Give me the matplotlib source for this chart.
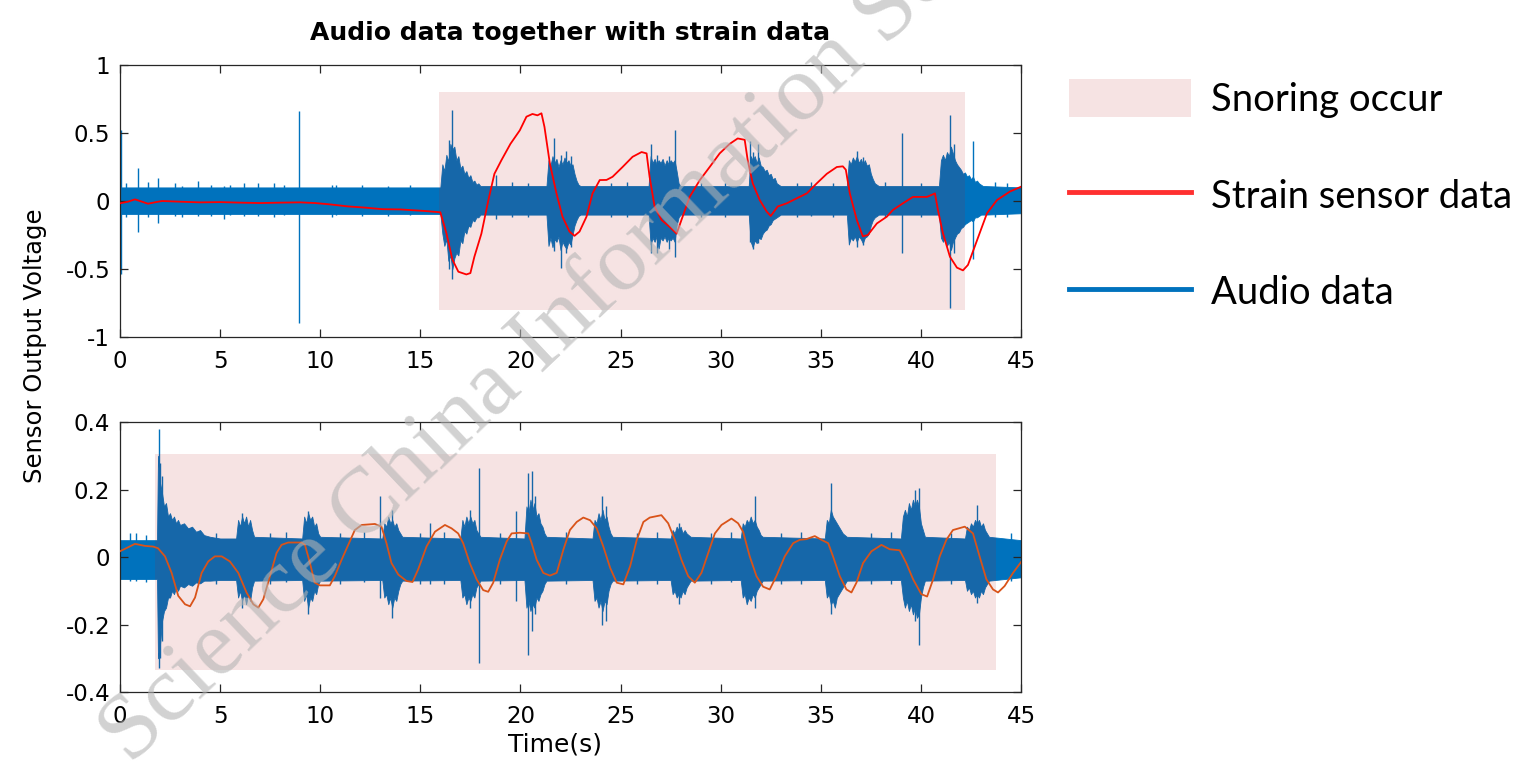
import matplotlib.pyplot as plt
from matplotlib.lines import Line2D
from matplotlib.patches import Patch

plt.rcParams['font.family'] = 'DejaVu Sans'

# ---- recording 1 (top) ----
# strain sensor trace
s1_t = [0, 0.4, 0.75, 1.1, 1.4, 1.8, 2.1, 3.0, 4.0, 5.0, 6.0, 7.0, 8.0, 9.0, 9.75,
        10.5, 11.4, 12.2, 13.1, 14.0, 15.2, 16.0, 16.3, 16.6, 16.9, 17.3, 17.5, 17.7,
        18.05, 18.4, 18.7, 19.05, 19.5, 19.97, 20.3, 20.6, 20.85, 21.05, 21.2, 21.47,
        21.8, 22.1, 22.45, 22.7, 22.95, 23.3, 23.6, 23.96, 24.3, 24.6, 25.1, 25.6, 26.05,
        26.3, 26.45, 26.7, 27.05, 27.45, 27.8, 28.1, 28.45, 28.96, 29.45, 29.95, 30.45,
        30.85, 31.2, 31.35, 31.6, 31.95, 32.3, 32.5, 32.85, 33.3, 33.8, 34.3, 34.8, 35.3,
        35.8, 36.1, 36.25, 36.45, 36.8, 37.1, 37.35, 37.8, 38.3, 38.6, 39.1, 39.6, 40.3,
        40.7, 40.85, 41.1, 41.45, 41.8, 42.1, 42.35, 42.8, 43.3, 43.8, 44.45, 45.0]
s1_v = [-0.017, -0.005, 0.012, -0.005, -0.02, -0.008, 0.0, -0.005, -0.01, -0.008, -0.012,
        -0.015, -0.012, -0.01, -0.015, -0.025, -0.04, -0.048, -0.06, -0.062, -0.073, -0.083,
        -0.235, -0.43, -0.52, -0.54, -0.53, -0.41, -0.24, 0.007, 0.2, 0.30, 0.42, 0.52, 0.62,
        0.64, 0.63, 0.645, 0.545, 0.275, 0.056, -0.115, -0.225, -0.256, -0.225, -0.115, 0.056,
        0.154, 0.155, 0.178, 0.25, 0.325, 0.36, 0.35, 0.178, -0.04, -0.14, -0.19, -0.24,
        -0.115, 0.03, 0.154, 0.25, 0.35, 0.42, 0.46, 0.45, 0.30, 0.13, 0.007, -0.078, -0.11,
        -0.04, -0.017, 0.02, 0.056, 0.13, 0.20, 0.25, 0.255, 0.23, 0.056, -0.14, -0.26, -0.25,
        -0.165, -0.115, -0.066, -0.017, 0.03, 0.03, 0.056, -0.066, -0.237, -0.41, -0.49,
        -0.51, -0.47, -0.29, -0.09, 0.007, 0.07, 0.105]

# audio envelope: upper / lower bound of the dense waveform
a1_t = [0, 16.0,
        16.1, 16.2, 16.3, 16.4, 16.5, 16.6, 16.7, 16.8, 16.9, 17.0, 17.1, 17.2, 17.3, 17.4,
        17.5, 17.6, 17.7, 17.8, 17.9, 18.0, 18.1,
        21.3, 21.4, 21.5, 21.6, 21.7, 21.8, 21.9, 22.0, 22.1, 22.2, 22.3, 22.4, 22.5, 22.6,
        22.7, 22.8, 22.9, 23.0,
        26.4, 26.5, 26.6, 26.7, 26.8, 26.9, 27.0, 27.1, 27.2, 27.3, 27.4, 27.5, 27.6, 27.7,
        27.8, 27.9, 28.0,
        31.4, 31.5, 31.6, 31.7, 31.8, 31.9, 32.0, 32.1, 32.2, 32.3, 32.4, 32.5, 32.6, 32.7,
        32.8, 32.9, 33.0,
        36.3, 36.4, 36.5, 36.6, 36.7, 36.8, 36.9, 37.0, 37.1, 37.2, 37.3, 37.4, 37.5, 37.6,
        37.7, 37.8, 37.9,
        40.9, 41.0, 41.1, 41.2, 41.3, 41.4, 41.5, 41.6, 41.7, 41.8, 41.9, 42.0, 42.1, 42.2,
        42.3, 42.4, 42.5, 42.6, 42.7, 42.8, 42.9, 43.0, 43.1, 43.2, 45.0]
a1_hi = [0.10, 0.10,
         0.27, 0.22, 0.34, 0.29, 0.42, 0.38, 0.40, 0.30, 0.33, 0.24, 0.26, 0.20, 0.22, 0.17,
         0.19, 0.14, 0.15, 0.12, 0.13, 0.11, 0.11,
         0.11, 0.30, 0.26, 0.33, 0.28, 0.31, 0.25, 0.30, 0.27, 0.32, 0.28, 0.30, 0.26, 0.27,
         0.20, 0.15, 0.12, 0.11,
         0.11, 0.33, 0.28, 0.31, 0.27, 0.30, 0.28, 0.31, 0.26, 0.30, 0.27, 0.30, 0.28, 0.30,
         0.22, 0.13, 0.11,
         0.11, 0.33, 0.30, 0.33, 0.28, 0.32, 0.26, 0.25, 0.22, 0.23, 0.19, 0.20, 0.16, 0.17,
         0.13, 0.12, 0.11,
         0.11, 0.30, 0.27, 0.32, 0.29, 0.33, 0.28, 0.31, 0.27, 0.30, 0.26, 0.27, 0.20, 0.16,
         0.13, 0.12, 0.11,
         0.11, 0.30, 0.34, 0.30, 0.36, 0.33, 0.40, 0.35, 0.30, 0.27, 0.25, 0.23, 0.20, 0.21,
         0.18, 0.19, 0.16, 0.18, 0.14, 0.15, 0.13, 0.12, 0.11, 0.11, 0.10]
a1_lo = [-0.095, -0.095,
         -0.24, -0.33, -0.28, -0.44, -0.40, -0.50, -0.42, -0.38, -0.40, -0.29, -0.31, -0.22,
         -0.24, -0.18, -0.19, -0.14, -0.15, -0.12, -0.12, -0.10, -0.10,
         -0.10, -0.33, -0.27, -0.34, -0.28, -0.30, -0.26, -0.36, -0.30, -0.33, -0.35, -0.30,
         -0.32, -0.25, -0.18, -0.14, -0.11, -0.10,
         -0.10, -0.32, -0.27, -0.30, -0.26, -0.35, -0.27, -0.29, -0.26, -0.30, -0.27, -0.29,
         -0.27, -0.30, -0.18, -0.12, -0.10,
         -0.10, -0.30, -0.34, -0.29, -0.31, -0.27, -0.28, -0.24, -0.22, -0.21, -0.18, -0.17,
         -0.14, -0.13, -0.12, -0.11, -0.10,
         -0.10, -0.32, -0.27, -0.29, -0.26, -0.30, -0.26, -0.28, -0.31, -0.27, -0.26, -0.24,
         -0.18, -0.14, -0.12, -0.11, -0.10,
         -0.10, -0.27, -0.30, -0.27, -0.33, -0.30, -0.36, -0.30, -0.27, -0.24, -0.23, -0.20,
         -0.19, -0.17, -0.16, -0.15, -0.14, -0.15, -0.12, -0.12, -0.11, -0.10, -0.10, -0.10,
         -0.09]
# single peaks standing out of the audio
k1_t = [0.03, 0.3, 0.9, 1.4, 1.9, 2.75, 3.1, 3.9, 4.55, 5.2, 5.5, 6.2, 6.9, 7.7, 8.2,
        8.95, 10.6, 10.8, 12.1, 13.4, 14.5, 16.45, 16.6, 17.4, 18.8, 19.6, 20.4, 21.7,
        22.05, 22.3, 22.55, 24.5, 25.3, 26.5, 26.8, 27.4, 27.7, 29.0, 30.2, 31.45, 31.6,
        31.85, 33.8, 34.5, 35.6, 36.8, 37.1, 38.2, 39.05, 40.0, 41.45, 41.65, 42.6, 43.7,
        44.3]
k1_hi = [0.52, 0.13, 0.24, 0.14, 0.17, 0.13, 0.11, 0.15, 0.12, 0.11, 0.12, 0.13, 0.13,
         0.13, 0.12, 0.66, 0.12, 0.12, 0.12, 0.11, 0.115, 0.45, 0.67, 0.18, 0.19, 0.14, 0.13,
         0.46, 0.34, 0.37, 0.33, 0.13, 0.14, 0.42, 0.34, 0.33, 0.52, 0.13, 0.13, 0.44, 0.36,
         0.42, 0.13, 0.14, 0.13, 0.37, 0.32, 0.14, 0.50, 0.13, 0.63, 0.42, 0.44, 0.14, 0.13]
k1_lo = [-0.54, -0.12, -0.225, -0.12, -0.16, -0.11, -0.12, -0.11, -0.11, -0.13, -0.10,
         -0.11, -0.11, -0.12, -0.10, -0.90, -0.12, -0.10, -0.11, -0.11, -0.105, -0.50, -0.57,
         -0.19, -0.13, -0.12, -0.12, -0.37, -0.49, -0.38, -0.34, -0.12, -0.12, -0.38, -0.38,
         -0.35, -0.41, -0.12, -0.12, -0.30, -0.35, -0.31, -0.12, -0.11, -0.12, -0.34, -0.32,
         -0.12, -0.38, -0.12, -0.79, -0.38, -0.43, -0.12, -0.12]
snore1 = (15.93, 42.22, -0.80, 0.80)

# ---- recording 2 (bottom) ----
s2_t = [0, 0.75, 1.25, 1.66, 1.9, 2.25, 2.58, 2.91, 3.25, 3.5, 3.75, 4.08, 4.41, 4.74,
        5.08, 5.49, 5.91, 6.32, 6.66, 6.91, 7.16, 7.49, 7.82, 8.07, 8.4, 9.07, 9.24, 9.49,
        9.73, 9.98, 10.48, 10.73, 11.07, 11.4, 11.73, 12.07, 12.73, 13.06, 13.31, 13.56,
        13.9, 14.31, 14.61, 14.89, 15.31, 15.73, 16.23, 16.56, 16.89, 17.14, 17.47, 17.81,
        18.14, 18.39, 18.64, 18.97, 19.31, 19.56, 19.97, 20.39, 20.56, 20.81, 21.14, 21.47,
        21.81, 22.14, 22.47, 22.81, 23.14, 23.48, 23.81, 24.14, 24.48, 24.81, 25.14, 25.48,
        25.81, 26.14, 26.46, 27.04, 27.38, 27.71, 28.04, 28.38, 28.71, 29.04, 29.38, 29.71,
        30.04, 30.54, 30.87, 31.12, 31.45, 31.79, 32.12, 32.45, 32.78, 33.2, 33.62, 33.95,
        34.28, 34.7, 35.03, 35.37, 35.61, 35.95, 36.28, 36.53, 36.78, 37.11, 37.53, 38.03,
        38.44, 38.94, 39.27, 39.61, 40.02, 40.31, 40.61, 40.94, 41.27, 41.6, 42.19, 42.6,
        42.93, 43.27, 43.6, 43.85, 44.18, 44.6, 45.0]
s2_v = [0.017, 0.039, 0.033, 0.031, 0.026, 0.002, -0.047, -0.115, -0.14, -0.146, -0.12,
        -0.047, -0.013, 0.002, 0.002, -0.013, -0.047, -0.105, -0.14, -0.15, -0.125, -0.057,
        0.012, 0.036, 0.043, 0.043, 0.036, -0.018, -0.076, -0.084, -0.084, -0.057, -0.008,
        0.036, 0.08, 0.095, 0.098, 0.09, 0.041, -0.018, -0.052, -0.071, -0.074, -0.037,
        0.031, 0.075, 0.095, 0.085, 0.07, 0.041, -0.018, -0.066, -0.098, -0.103, -0.076,
        -0.008, 0.046, 0.07, 0.072, 0.07, 0.041, -0.008, -0.047, -0.055, -0.047, 0.021, 0.08,
        0.104, 0.117, 0.109, 0.085, 0.031, -0.032, -0.076, -0.081, -0.027, 0.051, 0.104,
        0.117, 0.124, 0.1, 0.051, -0.008, -0.057, -0.076, -0.047, 0.012, 0.07, 0.095, 0.114,
        0.1, 0.075, 0.002, -0.057, -0.088, -0.096, -0.057, 0.002, 0.041, 0.051, 0.053, 0.062,
        0.051, 0.041, 0.002, -0.057, -0.096, -0.105, -0.076, -0.018, 0.017, 0.036, 0.023,
        0.02, -0.018, -0.066, -0.11, -0.117, -0.066, 0.002, 0.051, 0.08, 0.09, 0.07, 0.002,
        -0.066, -0.096, -0.105, -0.086, -0.047, -0.015]

a2_t = [0, 1.85,
        1.9, 2.0, 2.1, 2.2, 2.3, 2.4, 2.5, 2.6, 2.7, 2.8, 2.9, 3.0, 3.2, 3.4, 3.6, 3.8,
        4.0, 4.2, 4.5, 5.0,
        5.8, 5.9, 6.0, 6.1, 6.2, 6.3, 6.4, 6.5, 6.6, 6.7,
        9.1, 9.2, 9.3, 9.4, 9.5, 9.6, 9.7, 9.8, 9.9, 10.0,
        13.1, 13.2, 13.3, 13.4, 13.5, 13.6, 13.7, 13.8, 13.9, 14.0, 14.1,
        17.0, 17.1, 17.2, 17.3, 17.4, 17.5, 17.6, 17.7, 17.8, 17.9, 18.0,
        20.2, 20.3, 20.4, 20.5, 20.6, 20.7, 20.8, 20.9, 21.0, 21.1, 21.2, 21.3,
        23.6, 23.7, 23.8, 23.9, 24.0, 24.1, 24.2, 24.3, 24.4, 24.5, 24.6,
        27.5, 27.6, 27.7, 27.8, 27.9, 28.0, 28.1, 28.2, 28.3, 28.4, 28.5,
        31.0, 31.1, 31.2, 31.3, 31.4, 31.5, 31.6, 31.7, 31.8, 31.9, 32.0, 32.1,
        35.2, 35.3, 35.4, 35.5, 35.6, 35.7, 35.8, 35.9, 36.0, 36.1, 36.2, 36.3,
        39.0, 39.1, 39.2, 39.3, 39.4, 39.5, 39.6, 39.7, 39.8, 39.9, 40.0, 40.1, 40.2,
        42.2, 42.3, 42.4, 42.5, 42.6, 42.7, 42.8, 42.9, 43.0, 43.1, 43.2, 43.3, 43.4,
        45.0]
a2_hi = [0.05, 0.05,
         0.30, 0.22, 0.19, 0.15, 0.16, 0.12, 0.13, 0.11, 0.12, 0.10, 0.11, 0.095, 0.10,
         0.085, 0.09, 0.075, 0.08, 0.065, 0.06, 0.055,
         0.055, 0.11, 0.09, 0.12, 0.10, 0.12, 0.09, 0.11, 0.08, 0.06,
         0.055, 0.12, 0.10, 0.13, 0.11, 0.12, 0.09, 0.10, 0.07, 0.06,
         0.055, 0.10, 0.09, 0.12, 0.10, 0.11, 0.09, 0.10, 0.08, 0.07, 0.06,
         0.055, 0.11, 0.09, 0.12, 0.10, 0.12, 0.10, 0.11, 0.08, 0.07, 0.06,
         0.055, 0.15, 0.13, 0.17, 0.14, 0.16, 0.12, 0.13, 0.10, 0.09, 0.07, 0.06,
         0.055, 0.11, 0.10, 0.13, 0.11, 0.14, 0.11, 0.12, 0.09, 0.07, 0.06,
         0.055, 0.08, 0.07, 0.09, 0.08, 0.09, 0.07, 0.08, 0.07, 0.065, 0.06,
         0.055, 0.10, 0.09, 0.11, 0.10, 0.12, 0.10, 0.11, 0.09, 0.08, 0.065, 0.06,
         0.055, 0.11, 0.10, 0.14, 0.12, 0.11, 0.10, 0.09, 0.08, 0.07, 0.065, 0.06,
         0.055, 0.12, 0.14, 0.12, 0.16, 0.14, 0.17, 0.15, 0.17, 0.15, 0.10, 0.08, 0.06,
         0.055, 0.09, 0.08, 0.10, 0.09, 0.11, 0.10, 0.11, 0.09, 0.10, 0.08, 0.07, 0.06,
         0.05]
a2_lo = [-0.065, -0.065,
         -0.30, -0.26, -0.19, -0.16, -0.15, -0.12, -0.12, -0.10, -0.11, -0.09, -0.10,
         -0.085, -0.09, -0.08, -0.085, -0.075, -0.078, -0.07, -0.07, -0.068,
         -0.068, -0.12, -0.10, -0.13, -0.11, -0.14, -0.11, -0.13, -0.09, -0.07,
         -0.068, -0.13, -0.11, -0.15, -0.12, -0.13, -0.10, -0.11, -0.08, -0.07,
         -0.068, -0.12, -0.11, -0.14, -0.12, -0.15, -0.12, -0.13, -0.10, -0.08, -0.07,
         -0.068, -0.12, -0.11, -0.14, -0.12, -0.13, -0.11, -0.12, -0.09, -0.08, -0.07,
         -0.068, -0.15, -0.13, -0.16, -0.14, -0.15, -0.12, -0.13, -0.11, -0.10, -0.08, -0.07,
         -0.068, -0.13, -0.12, -0.15, -0.13, -0.16, -0.13, -0.14, -0.10, -0.08, -0.07,
         -0.068, -0.11, -0.10, -0.12, -0.11, -0.12, -0.10, -0.11, -0.09, -0.08, -0.07,
         -0.068, -0.12, -0.11, -0.14, -0.12, -0.13, -0.11, -0.12, -0.10, -0.09, -0.08, -0.07,
         -0.068, -0.12, -0.11, -0.14, -0.13, -0.15, -0.12, -0.11, -0.10, -0.09, -0.08, -0.07,
         -0.068, -0.12, -0.15, -0.13, -0.16, -0.14, -0.17, -0.15, -0.18, -0.17, -0.12, -0.09,
         -0.07,
         -0.068, -0.10, -0.09, -0.11, -0.10, -0.12, -0.11, -0.12, -0.10, -0.11, -0.09, -0.08,
         -0.07,
         -0.06]
k2_t = [0.5, 0.8, 1.3, 1.95, 2.0, 2.1, 4.8, 6.1, 7.5, 8.3, 9.4, 11.0, 12.2, 13.0, 13.6,
        15.0, 15.5, 16.2, 17.5, 17.94, 19.0, 19.8, 20.39, 20.56, 20.75, 22.3, 24.05, 24.25,
        25.8, 26.8, 27.9, 29.5, 30.5, 31.7, 33.0, 34.0, 35.5, 37.5, 38.5, 39.7, 39.9, 41.5,
        42.8, 44.5]
k2_hi = [0.07, 0.07, 0.065, 0.378, 0.28, 0.24, 0.07, 0.13, 0.07, 0.075, 0.135, 0.07,
         0.075, 0.18, 0.14, 0.07, 0.10, 0.075, 0.14, 0.265, 0.07, 0.137, 0.25, 0.255, 0.18,
         0.075, 0.18, 0.15, 0.07, 0.075, 0.10, 0.07, 0.075, 0.18, 0.07, 0.075, 0.22, 0.07,
         0.075, 0.20, 0.205, 0.07, 0.153, 0.07]
k2_lo = [-0.07, -0.07, -0.075, -0.33, -0.30, -0.25, -0.08, -0.15, -0.08, -0.075, -0.17,
         -0.08, -0.075, -0.12, -0.18, -0.08, -0.08, -0.08, -0.15, -0.315, -0.08, -0.13,
         -0.29, -0.22, -0.17, -0.08, -0.20, -0.19, -0.08, -0.08, -0.14, -0.08, -0.075, -0.15,
         -0.08, -0.08, -0.17, -0.08, -0.08, -0.19, -0.26, -0.08, -0.135, -0.07]
snore2 = (1.75, 43.73, -0.335, 0.305)

xticks = [0, 5, 10, 15, 20, 25, 30, 35, 40, 45]

BLUE = '#0072BD'
SNORE = '#BC1E1E'


def panel(ax, at, ahi, alo, kt, khi, klo, st, sv, scol, snore, yticks, ylabels):
    ax.fill_between(at, alo, ahi, color=BLUE, lw=0.6, zorder=1)
    ax.vlines(kt, klo, khi, color=BLUE, lw=1.0, zorder=1)
    ax.fill_between([snore[0], snore[1]], snore[2], snore[3], color=SNORE,
                    alpha=0.12, lw=0, zorder=2)
    ax.plot(st, sv, color=scol, lw=1.3, zorder=3)
    ax.set_xlim(0, 45)
    ax.set_ylim(yticks[0], yticks[-1])
    ax.set_xticks(xticks)
    ax.set_xticklabels([str(x) for x in xticks])
    ax.set_yticks(yticks)
    ax.set_yticklabels(ylabels)
    ax.tick_params(direction='in', top=True, right=True, length=6, width=0.9,
                   color='#262626', labelsize=16.5)
    ax.tick_params(axis='x', pad=9)
    ax.tick_params(axis='y', pad=7)
    for sp in ax.spines.values():
        sp.set_color('#262626')
        sp.set_linewidth(0.9)


fig = plt.figure(figsize=(15.34, 7.64), dpi=100)
ax1 = fig.add_axes([0.0782, 0.5589, 0.5874, 0.356])
ax2 = fig.add_axes([0.0782, 0.0942, 0.5874, 0.3534])

panel(ax1, a1_t, a1_hi, a1_lo, k1_t, k1_hi, k1_lo, s1_t, s1_v, '#FF0000', snore1,
      [-1, -0.5, 0, 0.5, 1], ['-1', '-0.5', '0', '0.5', '1'])
panel(ax2, a2_t, a2_hi, a2_lo, k2_t, k2_hi, k2_lo, s2_t, s2_v, '#D95319', snore2,
      [-0.4, -0.2, 0, 0.2, 0.4], ['-0.4', '-0.2', '0', '0.2', '0.4'])

ax1.set_title('Audio data together with strain data', fontsize=18, fontweight='bold', pad=18)
fig.text(0.023, 0.548, 'Sensor Output Voltage', rotation=90, ha='center', va='center',
         fontsize=17.5)
fig.text(0.362, 0.025, 'Time(s)', ha='center', va='center', fontsize=18)

handles = [Patch(facecolor=SNORE, alpha=0.12, lw=0),
           Line2D([], [], color='#FF3030', lw=3.5),
           Line2D([], [], color=BLUE, lw=3.5)]
fig.legend(handles, ['Snoring occur', 'Strain sensor data', 'Audio data'],
           loc='upper left', bbox_to_anchor=(0.697, 0.897), frameon=False,
           prop={'family': 'Lato', 'size': 27.5}, handlelength=3.2, handleheight=1.15,
           handletextpad=0.5, labelspacing=1.52, borderpad=0, borderaxespad=0)

fig.text(0.0847, -0.0013, 'Science China Information Sciences', rotation=43.6,
         rotation_mode='anchor', ha='left', va='baseline', family='Liberation Serif',
         fontsize=68, color='#B4B4B4', alpha=0.6, zorder=10)

fig.savefig('out.png', dpi=100, facecolor='white')
